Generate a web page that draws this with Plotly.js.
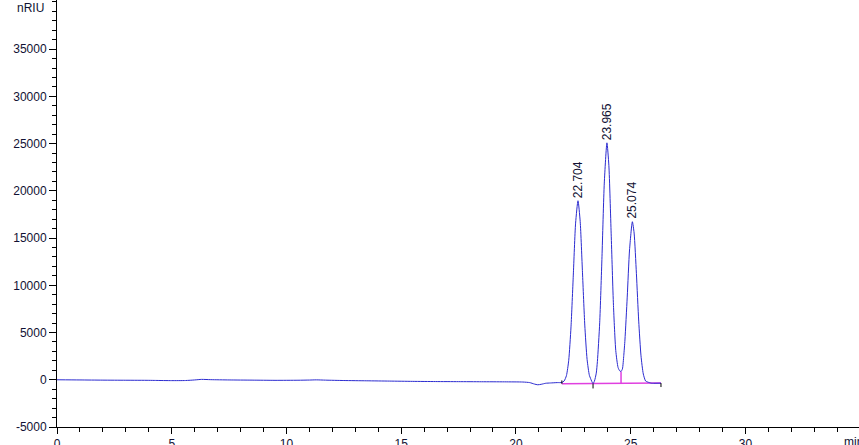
<!DOCTYPE html>
<html>
<head>
<meta charset="utf-8">
<script src="https://cdn.plot.ly/plotly-3.0.1.min.js"></script>
<style>
html,body{margin:0;padding:0;background:#fff;}
#chart{width:859px;height:445px;}
</style>
</head>
<body>
<div id="chart"></div>
<script>
// Detector signal (nRIU) vs retention time (min)
var signalTime = [
  0.0, 1.0, 2.0, 3.0, 4.0, 4.3, 5.0, 5.6, 6.0, 6.3, 6.7, 7.5, 8.5, 9.5, 10.5, 11.0, 11.3, 11.7,
  12.5, 13.5, 14.5, 15.5, 16.5, 17.5, 18.5, 19.5, 20.3, 20.6, 20.8, 20.95, 21.1, 21.3, 21.5,
  21.8, 22.0, 22.1, 22.2, 22.3, 22.4, 22.5, 22.6, 22.704, 22.8, 22.9, 23.0, 23.1, 23.2, 23.25,
  23.3, 23.36, 23.42, 23.5, 23.55, 23.65, 23.75, 23.85, 23.965, 24.05, 24.15, 24.25, 24.35,
  24.45, 24.52, 24.58, 24.64, 24.7, 24.75, 24.85, 24.95, 25.074, 25.15, 25.25, 25.35, 25.45,
  25.55, 25.65, 25.75, 25.9, 26.0, 26.32
];
var signalValue = [
  0, -20, -40, -50, -60, -70, -90, -80, -20, 40, 10, -20, -40, -60, -50, -30, -10, -40,
  -80, -110, -140, -170, -190, -200, -210, -220, -240, -300, -450, -530, -480, -370, -340,
  -300, -290, -130, 430, 2060, 5600, 11080, 16580, 18950, 16760, 11320, 5790, 2160, 470, 150,
  -150, -400, -150, 700, 1930, 6030, 13020, 20820, 25080, 22660, 15450, 7860, 3100,
  1300, 950, 880, 1150, 2580, 4210, 8750, 13740, 16730, 15530, 11230, 6210, 2530,
  610, -130, -250, -360, -370, -360
];

// Integration baseline (magenta) and markers
var baselineTime = [22.0, 26.32];
var baselineValue = [-420, -350];
var dropTime = [24.58, 24.58];
var dropValue = [-380, 880];
var startMarkTime = [22.0, 22.0];
var startMarkValue = [-420, -70];
var splitMarkTime = [23.36, 23.36];
var splitMarkValue = [-410, -920];
var endMarkTime = [26.32, 26.32];
var endMarkValue = [-350, -770];

// Peak labels
var peakTime = [22.704, 23.965, 25.074];
var peakHeight = [18950, 25080, 16730];
var peakLabel = ["22.704", "23.965", "25.074"];

// Axis ticks
var xTickVals = [0, 5, 10, 15, 20, 25, 30];
var xTickText = ["0", "5", "10", "15", "20", "25", "30"];
var yTickVals = [-5000, 0, 5000, 10000, 15000, 20000, 25000, 30000, 35000];
var yTickText = ["-5000", "0", "5000", "10000", "15000", "20000", "25000", "30000", "35000"];

var lblFont = {family: "Liberation Sans, Arial, sans-serif", size: 12, color: "#111133"};

var traces = [
  {x: baselineTime, y: baselineValue, mode: "lines", line: {color: "#e040e0", width: 1.5}, hoverinfo: "skip"},
  {x: dropTime, y: dropValue, mode: "lines", line: {color: "#e040e0", width: 1.5}, hoverinfo: "skip"},
  {x: signalTime, y: signalValue, mode: "lines", line: {color: "#2b2bd0", width: 1, shape: "spline", smoothing: 0.6}},
  {x: startMarkTime, y: startMarkValue, mode: "lines", line: {color: "#000000", width: 1}},
  {x: splitMarkTime, y: splitMarkValue, mode: "lines", line: {color: "#000000", width: 1}},
  {x: endMarkTime, y: endMarkValue, mode: "lines", line: {color: "#000000", width: 1}}
];

var annotations = peakTime.map(function (t, i) {
  return {
    x: t, y: peakHeight[i], xref: "x", yref: "y",
    text: peakLabel[i], textangle: -90, showarrow: false,
    xanchor: "center", yanchor: "bottom", yshift: 1,
    font: lblFont
  };
});
annotations.push({
  xref: "paper", yref: "paper", x: 0, y: 1, xanchor: "right", yanchor: "middle",
  xshift: -11, yshift: -8, text: "nRIU", showarrow: false, font: lblFont
});
annotations.push({
  xref: "paper", yref: "paper", x: 1, y: 0, xanchor: "left", yanchor: "top",
  xshift: -17, yshift: -6, text: "min", showarrow: false, font: lblFont
});

var layout = {
  width: 859, height: 445,
  margin: {l: 57, r: 0, t: 0, b: 18, pad: 0},
  paper_bgcolor: "#ffffff", plot_bgcolor: "#ffffff",
  showlegend: false,
  font: lblFont,
  xaxis: {
    range: [0, 34.95], showgrid: false, zeroline: false,
    showline: true, linecolor: "#000000", linewidth: 1,
    tickmode: "array", tickvals: xTickVals, ticktext: xTickText,
    ticks: "outside", ticklen: 6, tickcolor: "#000000", tickwidth: 1,
    minor: {dtick: 1, tick0: 0, ticks: "outside", ticklen: 4, tickcolor: "#000000", tickwidth: 1, showgrid: false},
    tickfont: lblFont
  },
  yaxis: {
    range: [-5000, 40200], showgrid: false, zeroline: false,
    showline: true, linecolor: "#000000", linewidth: 1,
    tickmode: "array", tickvals: yTickVals, ticktext: yTickText,
    ticks: "outside", ticklen: 7, tickcolor: "#000000", tickwidth: 1,
    minor: {dtick: 1000, tick0: 0, ticks: "outside", ticklen: 4, tickcolor: "#000000", tickwidth: 1, showgrid: false},
    tickfont: lblFont
  },
  annotations: annotations
};

Plotly.newPlot("chart", traces, layout, {staticPlot: true, displayModeBar: false});
</script>
</body>
</html>
